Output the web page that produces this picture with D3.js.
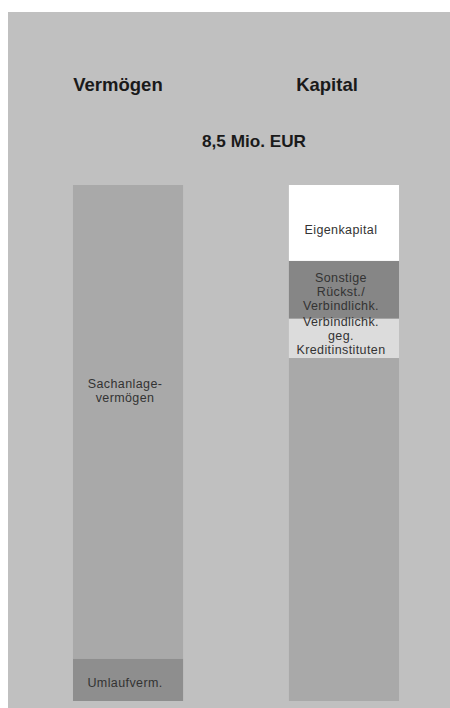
<!DOCTYPE html>
<html>
<head>
<meta charset="utf-8">
<script src="https://cdn.jsdelivr.net/npm/d3@7"></script>
<style>
  html, body { margin: 0; padding: 0; background: #ffffff; }
  svg { display: block; }
</style>
</head>
<body>
<svg id="chart" width="450" height="708"></svg>
<script>
// ---- Data (Mio. EUR) ----
const columns = ["Vermögen", "Kapital"];
const totalLabel = "8,5 Mio. EUR";
// stacked from bottom to top
const vermoegenNames  = ["Umlaufverm.", "Sachanlage-\nvermögen"];
const vermoegenValues = [0.7, 7.8];
const kapitalNames    = ["", "Verbindlichk.\ngeg.\nKreditinstituten", "Sonstige\nRückst./\nVerbindlichk.", "Eigenkapital"];
const kapitalValues   = [5.65, 0.65, 0.95, 1.25];
const yTicks = [0, 8.5];

// ---- Styling ----
const colors = {
  "Umlaufverm.": "#8e8e8e",
  "Sachanlage-\nvermögen": "#a9a9a9",
  "": "#a9a9a9",
  "Verbindlichk.\ngeg.\nKreditinstituten": "#dcdcdc",
  "Sonstige\nRückst./\nVerbindlichk.": "#868686",
  "Eigenkapital": "#ffffff"
};
const labelShift = {
  "Sachanlage-\nvermögen": -30.5,
  "Eigenkapital": 7.5,
  "Verbindlichk.\ngeg.\nKreditinstituten": -2,
  "Sonstige\nRückst./\nVerbindlichk.": 2,
  "Umlaufverm.": 3.5
};

const svg = d3.select("#chart");
const W = 450, H = 708;

svg.append("rect").attr("x", 8).attr("y", 12).attr("width", W - 8).attr("height", H - 12)
  .attr("fill", "#c0c0c0");

const x = d3.scaleBand().domain(columns).range([19, 453]).paddingInner(0.49).paddingOuter(0.25);
const y = d3.scaleLinear().domain(d3.extent(yTicks)).range([701, 185]);

const stacks = [
  { col: columns[0], names: vermoegenNames, values: vermoegenValues },
  { col: columns[1], names: kapitalNames, values: kapitalValues }
];

const fontFam = "'Liberation Sans', Arial, sans-serif";

stacks.forEach(s => {
  let acc = 0;
  const segs = s.values.map((v, i) => {
    const seg = { name: s.names[i], y0: acc, y1: acc + v };
    acc += v;
    return seg;
  });
  const g = svg.append("g");
  g.selectAll("rect").data(segs).join("rect")
    .attr("x", x(s.col))
    .attr("width", x.bandwidth())
    .attr("y", d => y(d.y1))
    .attr("height", d => y(d.y0) - y(d.y1))
    .attr("fill", d => colors[d.name]);

  segs.forEach(d => {
    if (!d.name) return;
    const lines = d.name.split("\n");
    const lh = 14;
    const cy = (y(d.y0) + y(d.y1)) / 2 + (labelShift[d.name] || 0);
    const t = g.append("text")
      .attr("text-anchor", "middle")
      .attr("font-family", fontFam)
      .attr("font-size", 12.5)
      .attr("letter-spacing", 0.4)
      .attr("fill", "#333333");
    lines.forEach((ln, k) => {
      t.append("tspan")
        .attr("x", x(s.col) + x.bandwidth() / 2 - 3)
        .attr("y", cy + (k - (lines.length - 1) / 2) * lh + 4)
        .text(ln);
    });
  });
});

// column headings
svg.append("text").attr("x", 118).attr("y", 91).attr("text-anchor", "middle")
  .attr("font-family", fontFam).attr("font-weight", "bold").attr("font-size", 18.5)
  .attr("fill", "#1a1a1a").text(columns[0]);
svg.append("text").attr("x", 327).attr("y", 91).attr("text-anchor", "middle")
  .attr("font-family", fontFam).attr("font-weight", "bold").attr("font-size", 18.5)
  .attr("fill", "#1a1a1a").text(columns[1]);
svg.append("text").attr("x", 254).attr("y", 147).attr("text-anchor", "middle")
  .attr("font-family", fontFam).attr("font-weight", "bold").attr("font-size", 17)
  .attr("textLength", 104).attr("lengthAdjust", "spacingAndGlyphs")
  .attr("fill", "#1a1a1a").text(totalLabel);
</script>
</body>
</html>
